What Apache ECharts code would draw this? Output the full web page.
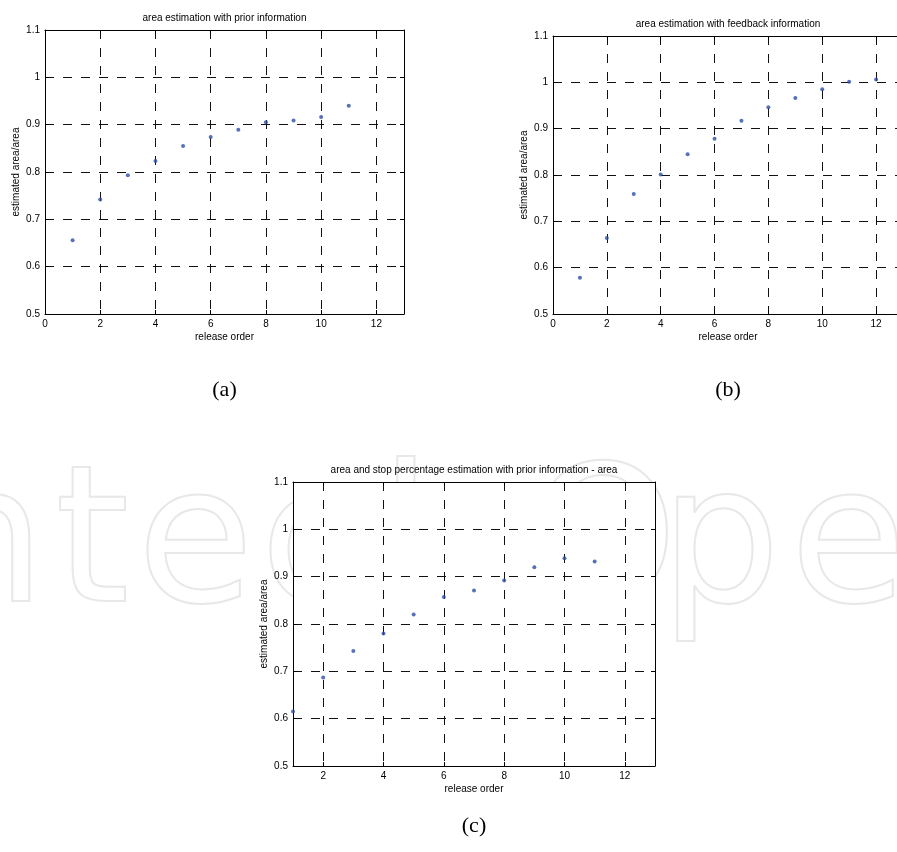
<!DOCTYPE html>
<html>
<head>
<meta charset="utf-8">
<script src="https://cdn.jsdelivr.net/npm/echarts@6/dist/echarts.min.js"></script>
<style>
html, body { margin: 0; padding: 0; background: #fff; }
#chart { width: 897px; height: 852px; }
</style>
</head>
<body>
<div id="chart"></div>
<script>
// release order / estimated area ratio for each panel
const orderA = [1, 2, 3, 4, 5, 6, 7, 8, 9, 10, 11]
const valuesA = [0.656, 0.742, 0.793, 0.823, 0.855, 0.874, 0.889, 0.905, 0.909, 0.916, 0.940]

const orderB = [1, 2, 3, 4, 5, 6, 7, 8, 9, 10, 11, 12]
const valuesB = [0.578, 0.664, 0.759, 0.801, 0.845, 0.878, 0.917, 0.946, 0.966, 0.985, 1.001, 1.006]

const orderC = [1, 2, 3, 4, 5, 6, 7, 8, 9, 10, 11]
const valuesC = [0.615, 0.687, 0.743, 0.780, 0.820, 0.857, 0.871, 0.892, 0.920, 0.939, 0.932]

// tick labels
const xTicksAB = [0, 2, 4, 6, 8, 10, 12]
const xTicksC = [2, 4, 6, 8, 10, 12]
const yMin = 0.5
const yMax = 1.1
const yStep = 0.1

const titles = [
  'area estimation with prior information',
  'area estimation with feedback information',
  'area and stop percentage estimation with prior information - area',
]
const panelNames = ['(a)', '(b)', '(c)']
const xName = 'release order'
const yName = 'estimated area/area'

const sans = 'Liberation Sans'
const dotColor = '#2c4ea8'

// panel boxes in pixels (left, top, width, height), labelGap = distance to the (a)/(b)/(c) caption
const boxes = [
  { left: 45, top: 30, width: 359, height: 284, xMin: 0, labelGap: 76 },
  { left: 553, top: 36, width: 350, height: 278, xMin: 0, labelGap: 76 },
  { left: 293, top: 482, width: 362, height: 284, xMin: 1, labelGap: 60 },
]

const dashed = { color: '#111', width: 1, type: [9, 9] }

const makeXAxes = (gi, box, ticks) => {
  const base = {
    gridIndex: gi,
    type: 'value',
    min: box.xMin,
    max: 13,
    axisLine: { show: true, onZero: false, lineStyle: { color: '#000', width: 1 } },
    axisTick: { show: true, inside: true, length: 4, customValues: ticks, lineStyle: { color: '#000' } },
  }
  return [
    Object.assign({}, base, {
      position: 'bottom',
      name: xName,
      nameLocation: 'middle',
      nameGap: 18,
      nameTextStyle: { fontSize: 10, color: '#000', fontFamily: sans },
      axisLabel: { customValues: ticks, margin: 5, fontSize: 10, color: '#000', fontFamily: sans },
      splitLine: { show: true, lineStyle: dashed },
    }),
    Object.assign({}, base, {
      position: 'top',
      axisLabel: { show: false },
      splitLine: { show: false },
    }),
  ]
}

const makeYAxes = (gi) => {
  const base = {
    gridIndex: gi,
    type: 'value',
    min: yMin,
    max: yMax,
    interval: yStep,
    axisLine: { show: true, onZero: false, lineStyle: { color: '#000', width: 1 } },
    axisTick: { show: true, inside: true, length: 4, lineStyle: { color: '#000' } },
  }
  return [
    Object.assign({}, base, {
      position: 'left',
      name: yName,
      nameLocation: 'middle',
      nameGap: 24,
      nameTextStyle: { fontSize: 10, color: '#000', fontFamily: sans },
      axisLabel: { margin: 5, fontSize: 10, color: '#000', fontFamily: sans },
      splitLine: { show: true, lineStyle: dashed },
    }),
    Object.assign({}, base, {
      position: 'right',
      axisLabel: { show: false },
      splitLine: { show: false },
    }),
  ]
}

const panels = [
  { order: orderA, values: valuesA, ticks: xTicksAB },
  { order: orderB, values: valuesB, ticks: xTicksAB },
  { order: orderC, values: valuesC, ticks: xTicksC },
]

let xAxes = []
let yAxes = []
let series = []
let graphics = []

// faint watermark letters behind the panels
const watermark = [
  ['n', -75], ['t', 55], ['e', 137], ['c', 260], ['h', 380],
  ['O', 528], ['p', 660], ['e', 790],
]
watermark.forEach(([ch, x]) => {
  graphics.push({
    type: 'text',
    x: x,
    y: 457,
    z: -10,
    silent: true,
    style: {
      text: ch,
      fontSize: 190,
      fontFamily: 'DejaVu Sans',
      verticalAlign: 'top',
      fill: 'none',
      stroke: '#e8e8e8',
      lineWidth: 2,
    },
  })
})

panels.forEach((p, gi) => {
  const box = boxes[gi]
  xAxes = xAxes.concat(makeXAxes(gi, box, p.ticks))
  yAxes = yAxes.concat(makeYAxes(gi))
  series.push({
    type: 'scatter',
    xAxisIndex: gi * 2,
    yAxisIndex: gi * 2,
    symbol: 'circle',
    symbolSize: 4,
    clip: false,
    itemStyle: { color: dotColor },
    data: p.order.map((x, i) => [x, p.values[i]]),
  })
  graphics.push({
    type: 'text',
    x: box.left + box.width / 2,
    y: box.top - 12,
    style: { text: titles[gi], align: 'center', verticalAlign: 'middle', fontSize: 10, fontFamily: sans, fill: '#000' },
  })
  graphics.push({
    type: 'text',
    x: box.left + box.width / 2,
    y: box.top + box.height + box.labelGap,
    style: { text: panelNames[gi], align: 'center', verticalAlign: 'middle', fontSize: 22, fontFamily: 'Liberation Serif', fill: '#000' },
  })
})

const options = {
  backgroundColor: '#fff',
  animation: false,
  grid: boxes.map((b) => ({
    left: b.left,
    top: b.top,
    width: b.width,
    height: b.height,
    show: true,
    backgroundColor: '#fff',
    borderWidth: 0,
    outerBoundsMode: 'none',
  })),
  xAxis: xAxes,
  yAxis: yAxes,
  series: series,
  graphic: graphics,
}

const chart = echarts.init(document.getElementById('chart'))
chart.setOption(options)
window.addEventListener('resize', function () {
  chart && chart.resize()
})
</script>
</body>
</html>
